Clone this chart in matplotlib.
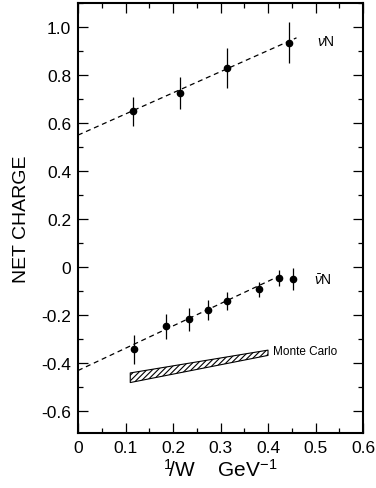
import matplotlib
matplotlib.use("Agg")
import matplotlib.pyplot as plt
from matplotlib.ticker import MultipleLocator, FixedFormatter, FixedLocator

plt.rcParams['font.family'] = ['Liberation Sans', 'DejaVu Sans']
plt.rcParams['mathtext.fontset'] = 'custom'
plt.rcParams['mathtext.rm'] = 'Liberation Sans'
plt.rcParams['mathtext.it'] = 'Liberation Sans:italic'
plt.rcParams['hatch.linewidth'] = 0.8

# nu N data
nu_x = [0.116, 0.215, 0.314, 0.444]
nu_y = [0.65, 0.725, 0.83, 0.935]
nu_err = [0.06, 0.065, 0.083, 0.085]
nu_line_x = [0.0, 0.46]
nu_line_y = [0.55, 0.955]

# nubar N data
nb_x = [0.118, 0.185, 0.234, 0.274, 0.314, 0.381, 0.423, 0.453]
nb_y = [-0.342, -0.246, -0.217, -0.178, -0.14, -0.092, -0.045, -0.05]
nb_err = [0.06, 0.052, 0.047, 0.04, 0.037, 0.03, 0.035, 0.045]
nb_line_x = [0.0, 0.42]
nb_line_y = [-0.43, -0.04]

# Monte Carlo band
mc_x = [0.11, 0.40]
mc_lo = [-0.48, -0.367]
mc_hi = [-0.44, -0.345]

xticks = [0, 0.1, 0.2, 0.3, 0.4, 0.5, 0.6]
xticklabels = ['0', '0.1', '0.2', '0.3', '0.4', '0.5', '0.6']
yticks = [-0.6, -0.4, -0.2, 0, 0.2, 0.4, 0.6, 0.8, 1.0]
yticklabels = ['-0.6', '-0.4', '-0.2', '0', '0.2', '0.4', '0.6', '0.8', '1.0']

fig = plt.figure(figsize=(3.76, 4.89), dpi=100)
ax = fig.add_axes([78/376, (489-434)/489, (363-78)/376, (434-4)/489])

ax.errorbar(nu_x, nu_y, yerr=nu_err, fmt='o', color='black', ms=4.5,
            elinewidth=0.9, capsize=0)
ax.plot(nu_line_x, nu_line_y, '--', color='black', lw=0.9, dashes=(4, 3))
ax.errorbar(nb_x, nb_y, yerr=nb_err, fmt='o', color='black', ms=4.5,
            elinewidth=0.9, capsize=0)
ax.plot(nb_line_x, nb_line_y, '--', color='black', lw=0.9, dashes=(4, 3))
ax.fill_between(mc_x, mc_lo, mc_hi, facecolor='white', edgecolor='black',
                hatch='//////', lw=0.8)

ax.text(0.503, 0.94, r'$\nu$N', fontsize=10, va='center', ha='left')
ax.text(0.497, -0.05, r'$\bar{\nu}$N', fontsize=10, va='center', ha='left')
ax.text(0.41, -0.35, 'Monte Carlo', fontsize=8.5, va='center', ha='left')

ax.set_xlim(0, 0.6)
ax.set_ylim(-0.69, 1.1)
ax.xaxis.set_major_locator(FixedLocator(xticks))
ax.xaxis.set_major_formatter(FixedFormatter(xticklabels))
ax.yaxis.set_major_locator(FixedLocator(yticks))
ax.yaxis.set_major_formatter(FixedFormatter(yticklabels))
ax.xaxis.set_minor_locator(MultipleLocator(0.05))
ax.yaxis.set_minor_locator(MultipleLocator(0.1))
ax.tick_params(which='both', direction='in', top=True, right=True, width=0.9)
ax.tick_params(which='major', length=7, labelsize=12.5, pad=5)
ax.tick_params(which='minor', length=3.5)
for s in ax.spines.values():
    s.set_linewidth(1.5)

ax.set_ylabel('NET CHARGE', fontsize=14, labelpad=8)
ax.set_xlabel(r'$^{1}\!/\mathrm{W}$    GeV$^{-1}$', fontsize=15, labelpad=2)

fig.savefig('out.png', dpi=100)
